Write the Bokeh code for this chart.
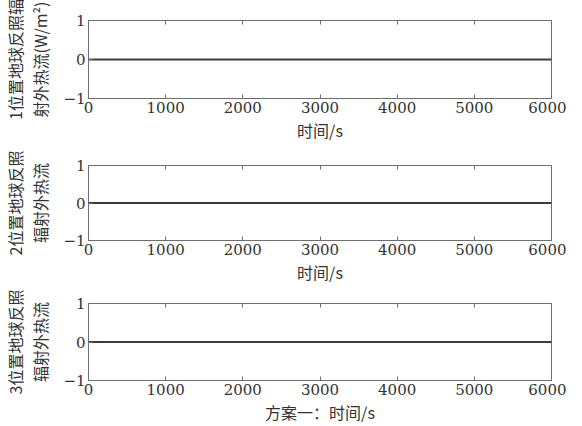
from bokeh.plotting import figure
from bokeh.layouts import column
from bokeh.models import Range1d, FixedTicker, LinearAxis
from bokeh.embed import file_html
from bokeh.resources import INLINE

# ---- data ----
time_s = [0, 6000]
flux_pos1 = [0, 0]
flux_pos2 = [0, 0]
flux_pos3 = [0, 0]
x_ticks = [0, 1000, 2000, 3000, 4000, 5000, 6000]
y_ticks = [-1, 0, 1]
y_tick_labels = {-1: "\u22121", 0: "0", 1: "1"}
y_labels = ["1位置地球反照辐\n射外热流(W/m²)", "2位置地球反照\n辐射外热流", "3位置地球反照\n辐射外热流"]
x_labels = ["时间/s", "时间/s", "方案一：时间/s"]
series = [flux_pos1, flux_pos2, flux_pos3]

SERIF = "DejaVu Serif"
CJK = "Noto Sans CJK SC"
FRAME = "#6e6e6e"
TXT = "#333333"

layout_spec = [  # height, border top, border bottom
    (146, 20, 48),
    (140, 19, 43),
    (140, 17, 46),
]

figs = []
for i, (h, bt, bb) in enumerate(layout_spec):
    p = figure(width=566, height=h, output_backend="svg", toolbar_location=None,
               x_range=Range1d(0, 6000), y_range=Range1d(-1, 1),
               min_border_left=80, min_border_right=15,
               min_border_top=bt, min_border_bottom=bb)
    p.background_fill_color = "white"
    p.border_fill_color = "white"
    p.outline_line_color = FRAME
    p.outline_line_width = 1
    p.grid.visible = False

    p.line(time_s, series[i], line_color="#3c3c3c", line_width=2)

    xa = p.xaxis[0]
    xa.ticker = FixedTicker(ticks=x_ticks)
    xa.axis_label = x_labels[i]
    ya = p.yaxis[0]
    ya.ticker = FixedTicker(ticks=y_ticks)
    ya.major_label_overrides = y_tick_labels
    ya.axis_label = y_labels[i]

    for ax in (xa, ya):
        ax.axis_line_color = FRAME
        ax.major_tick_line_color = FRAME
        ax.major_tick_in = 4
        ax.major_tick_out = 0
        ax.minor_tick_line_color = None
        ax.major_label_text_font = SERIF
        ax.major_label_text_font_size = "15px"
        ax.major_label_text_color = TXT
        ax.axis_label_text_font = CJK
        ax.axis_label_text_font_style = "normal"
        ax.axis_label_text_color = TXT
    xa.major_label_standoff = 3
    xa.axis_label_standoff = 2
    xa.axis_label_text_font_size = "16px"
    ya.major_label_standoff = 3
    ya.axis_label_standoff = 8
    ya.axis_label_text_font_size = "16px"
    ya.axis_label_text_line_height = 1.05

    top = LinearAxis(ticker=FixedTicker(ticks=x_ticks), major_label_text_font_size="1px",
                     major_label_text_color=None,
                     axis_line_color=None, major_tick_line_color=FRAME,
                     major_tick_in=4, major_tick_out=0, minor_tick_line_color=None,
                     major_label_standoff=0)
    p.add_layout(top, "above")
    figs.append(p)

layout = column(*figs, spacing=0)
open("out.html", "w").write(file_html(layout, INLINE))
